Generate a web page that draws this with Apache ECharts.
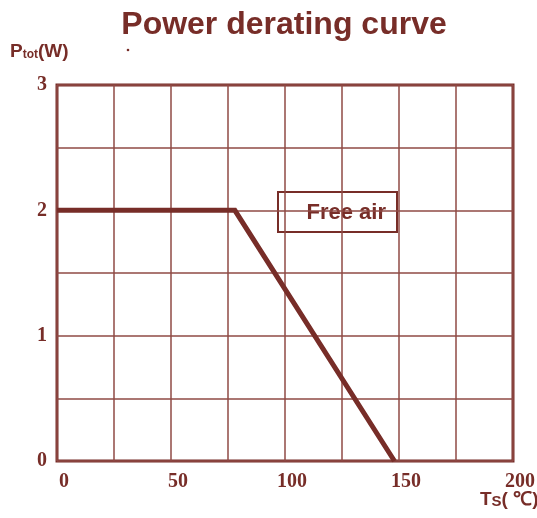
<!DOCTYPE html>
<html>
<head>
  <meta charset="utf-8">
  <title>Power derating curve</title>
  <script src="https://cdn.jsdelivr.net/npm/echarts@6/dist/echarts.min.js"></script>
  <style>
    body { margin: 0; padding: 0; background: #fff; }
    #main { width: 537px; height: 518px; }
  </style>
</head>
<body>
<div id="main"></div>
<script>
  // curve points: temperature (°C) -> power (W)
  const temps = [0, 78, 148];
  const power = [2, 2, 0];
  const xTicks = [0, 50, 100, 150, 200];
  const yTicks = [0, 1, 2, 3];

  const brown = '#772d28';
  const gridBrown = '#8f4a44';

  const chart = echarts.init(document.getElementById('main'));
  chart.setOption({
    backgroundColor: '#fff',
    animation: false,
    title: {
      text: 'Power derating curve',
      left: 279,
      top: 4,
      textAlign: 'center',
      textStyle: { color: brown, fontSize: 32, fontWeight: 'bold', fontFamily: 'Liberation Sans, Arial' }
    },
    grid: {
      left: 57, right: 24, top: 85, bottom: 57,
      outerBoundsMode: 'none',
      containLabel: false,
      show: true, borderColor: brown, borderWidth: 3
    },
    xAxis: {
      type: 'value', min: 0, max: 200, interval: 25,
      axisLine: { show: false },
      axisTick: { show: false },
      splitLine: { lineStyle: { color: gridBrown, width: 1.5 } },
      axisLabel: {
        color: brown, fontSize: 20, fontWeight: 'bold', fontFamily: 'Liberation Serif, Times New Roman',
        margin: 11, align: 'center', padding: [0, 0, 0, 14],
        formatter: v => xTicks.includes(v) ? String(v) : ''
      }
    },
    yAxis: {
      type: 'value', min: 0, max: 3, interval: 0.5,
      axisLine: { show: false },
      axisTick: { show: false },
      splitLine: { lineStyle: { color: gridBrown, width: 1.5 } },
      axisLabel: {
        color: brown, fontSize: 20, fontWeight: 'bold', fontFamily: 'Liberation Serif, Times New Roman',
        margin: 10, padding: [6, 0, 0, 0],
        formatter: v => yTicks.includes(v) ? String(v) : ''
      }
    },
    graphic: [
      {
        type: 'text', left: 10, top: 42,
        style: {
          text: '{p|P}{sub|tot}{p|(W)}',
          rich: {
            p: { fill: brown, fontSize: 19, fontWeight: 'bold', fontFamily: 'Liberation Sans, Arial' },
            sub: { fill: brown, fontSize: 12, fontWeight: 'bold', fontFamily: 'Liberation Sans, Arial', padding: [6, 0, 0, 0] }
          }
        }
      },
      {
        type: 'text', left: 480, top: 490,
        style: {
          text: '{t|T}{s|S}{t|( ℃)}',
          rich: {
            t: { fill: brown, fontSize: 19, fontWeight: 'bold', fontFamily: 'Liberation Sans, Arial' },
            s: { fill: brown, fontSize: 15, fontWeight: 'bold', fontFamily: 'Liberation Sans, Arial', padding: [4, 0, 0, 0] }
          }
        }
      },
      {
        type: 'circle', shape: { cx: 128, cy: 50, r: 1.3 }, style: { fill: brown }
      },
      {
        type: 'group', left: 277, top: 191,
        children: [
          {
            type: 'rect', shape: { x: 0, y: 0, width: 119, height: 40 },
            style: { fill: '#fff', stroke: brown, lineWidth: 2 }
          },
          {
            type: 'text', x: 108, y: 21,
            style: {
              text: 'Free air', fill: brown, fontSize: 22, fontWeight: 'bold',
              fontFamily: 'Liberation Sans, Arial', align: 'right', verticalAlign: 'middle'
            }
          }
        ]
      }
    ],
    series: [{
      type: 'line',
      data: temps.map((t, i) => [t, power[i]]),
      symbol: 'none',
      lineStyle: { color: brown, width: 5, join: 'miter' },
      z: 3
    }]
  });
  window.addEventListener('resize', () => chart.resize());
</script>
</body>
</html>
